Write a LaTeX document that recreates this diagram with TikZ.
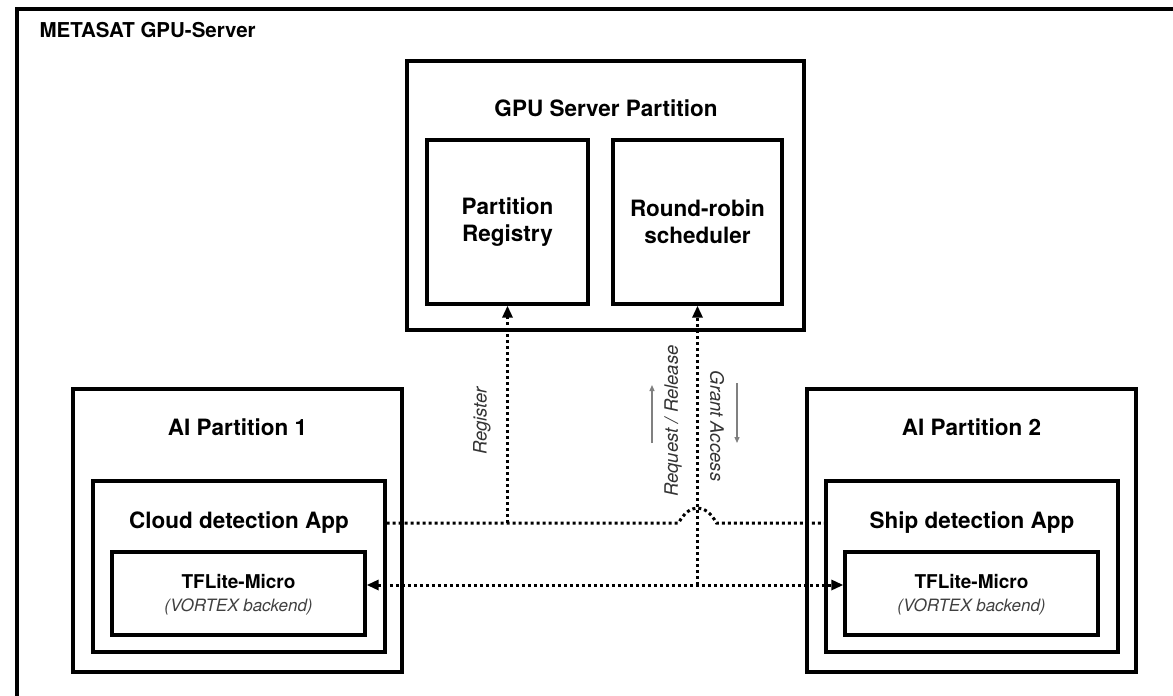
\documentclass[tikz,border=0pt]{standalone}
\usepackage{fontspec}
\setmainfont{TeX Gyre Heros}
\usetikzlibrary{arrows.meta}

\begin{document}
\begin{tikzpicture}[x=1pt, y=-1pt,
  box/.style={draw, line width=3.3pt, inner sep=0pt},
  ttl/.style={font=\fontsize{22.5}{27}\selectfont\bfseries, align=center},
  lbl/.style={font=\fontsize{18.5}{22}\selectfont\itshape, text=black!80},
  dotline/.style={line width=3pt, dash pattern=on 3pt off 3pt},
  tip/.style={-{Triangle[length=12pt,width=10pt]}},
  dir/.style={line width=1.3pt, black!50, -{Triangle[length=6pt,width=5pt]}}]

  \useasboundingbox (0,0) rectangle (1173,696);

  % outer frame, runs off the right and bottom
  \begin{scope}
    \clip (0,0) rectangle (1173,696);
    \draw[line width=3.3pt] (17,9) rectangle (1200,720);
  \end{scope}
  \node[anchor=west, font=\fontsize{20.5}{25}\selectfont\bfseries] (srv-t) at (36,30) {METASAT GPU-Server};

  % GPU server partition
  \node[box, minimum width=397pt, minimum height=269pt] (gpu) at (605.5,195.5) {};
  \node[ttl] (gpu-t) at (606,108) {GPU Server Partition};
  \node[box, ttl, minimum width=161pt, minimum height=164pt] (reg) at (507.5,222) {Partition\\Registry};
  \node[box, ttl, minimum width=169pt, minimum height=164pt] (sched) at (697.5,222) {Round-robin\\scheduler};

  % AI partition 1
  \node[box, minimum width=329pt, minimum height=283pt] (ai1) at (237.5,530.5) {};
  \node[ttl] (ai1-t) at (237.5,427) {AI Partition 1};
  \node[box, minimum width=292pt, minimum height=171pt] (app1) at (239,566.5) {};
  \node[ttl] (app1-t) at (239,523) {Cloud detection App};
  \node[box, minimum width=253pt, minimum height=83pt] (tfl1) at (238.5,593.5) {};
  \node[font=\fontsize{19}{23}\selectfont\bfseries] at (238.5,582) {TFLite-Micro};
  \node[font=\fontsize{17}{21}\selectfont\itshape, text=black!75] at (238.5,607) {(VORTEX backend)};

  % AI partition 2
  \node[box, minimum width=329pt, minimum height=283pt] (ai2) at (971.5,530.5) {};
  \node[ttl] (ai2-t) at (971.5,427) {AI Partition 2};
  \node[box, minimum width=292pt, minimum height=171pt] (app2) at (972,566.5) {};
  \node[ttl] (app2-t) at (972,523) {Ship detection App};
  \node[box, minimum width=253pt, minimum height=83pt] (tfl2) at (971.5,593.5) {};
  \node[font=\fontsize{19}{23}\selectfont\bfseries] at (971.5,582) {TFLite-Micro};
  \node[font=\fontsize{17}{21}\selectfont\itshape, text=black!75] at (971.5,607) {(VORTEX backend)};

  % control bus between the apps, hopping over the scheduler line
  \coordinate (hop) at (sched.south |- app1-t);
  \coordinate (bus) at (697.5,585);
  \draw[dotline] (app1.east |- app1-t) -- ([xshift=-19pt]hop)
    .. controls ([xshift=-8pt,yshift=20pt]hop) and ([xshift=8pt,yshift=20pt]hop) .. ([xshift=19pt]hop)
    -- (app2.west |- app2-t);
  \draw[dotline, tip] (reg.south |- app1-t) -- (reg.south);

  % access line to the backends
  \draw[dotline, {Triangle[length=12pt,width=10pt]}-{Triangle[length=12pt,width=10pt]}] (tfl1.east |- bus) -- (tfl2.west |- bus);
  \draw[dotline, tip] (bus) -- (sched.south);

  % labels
  \node[lbl, rotate=90] (reg-l) at (482,421) {Register};
  \node[lbl, rotate=90] (req-l) at (673,421) {Request / Release};
  \node[lbl, rotate=-90] (gnt-l) at (717,426) {Grant Access};
  \coordinate (up-a) at (652,443);
  \coordinate (up-b) at (652,385);
  \coordinate (dn-a) at (737,383);
  \coordinate (dn-b) at (737,443);
  \draw[dir] (up-a) -- (up-b);
  \draw[dir] (dn-a) -- (dn-b);

\end{tikzpicture}
\end{document}
